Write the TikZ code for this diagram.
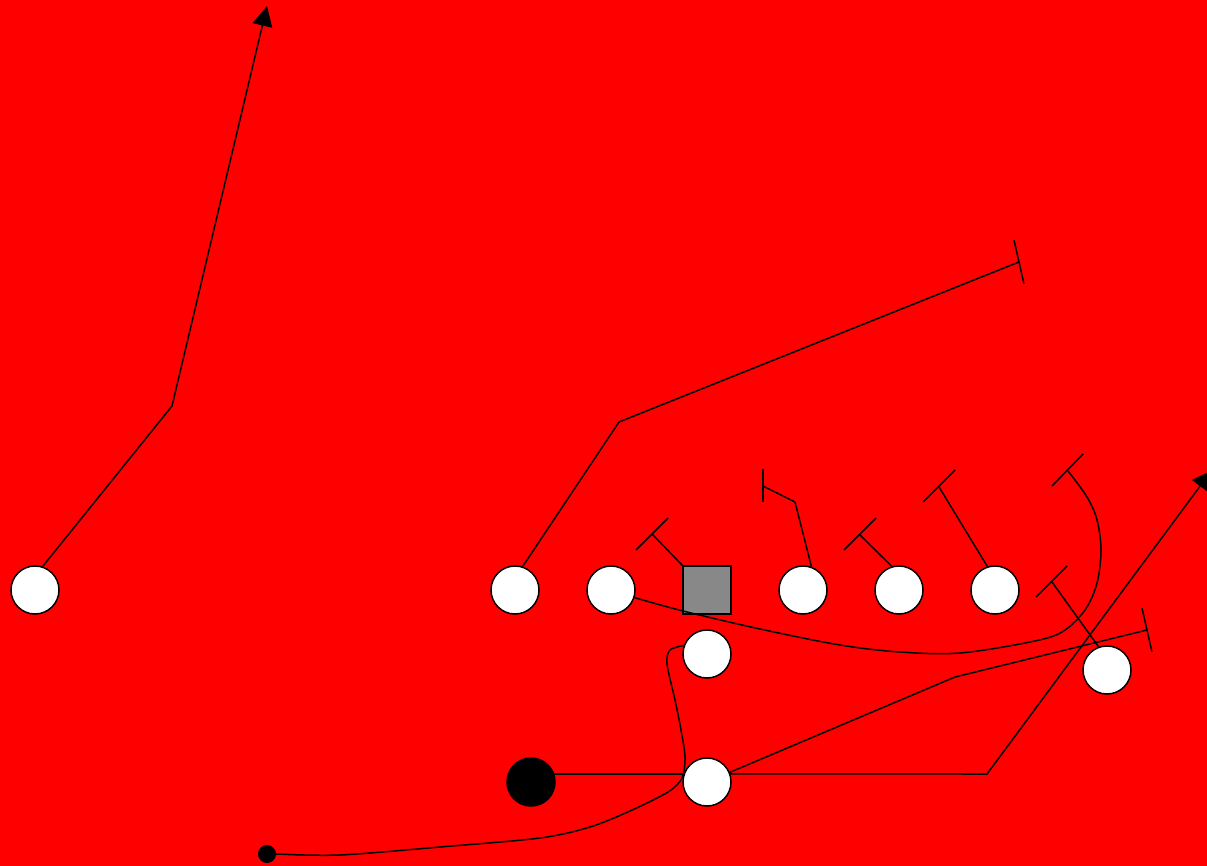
\documentclass[tikz,border=0pt]{standalone}
\usetikzlibrary{arrows.meta}
\definecolor{fieldred}{RGB}{255,0,0}
\definecolor{centergray}{RGB}{136,136,136}
\begin{document}
\begin{tikzpicture}[x=1pt,y=-1pt,
  player/.style={circle, draw=black, fill=white, minimum size=48pt, inner sep=0pt, line width=1.5pt},
  centerbox/.style={rectangle, draw=black, fill=centergray, minimum size=48pt, inner sep=0pt, line width=1.5pt},
  ballcarrier/.style={circle, draw=black, fill=black, minimum size=48pt, inner sep=0pt, line width=1.5pt},
  motiondot/.style={circle, draw=black, fill=black, minimum size=17pt, inner sep=0pt, line width=1pt},
  route/.style={draw=black, line width=1.5pt, line join=round},
  tbar/.style={draw=black, line width=1.5pt},
  arrowroute/.style={route, -{Triangle[length=20pt,width=20pt]}}
]
\clip (0,0) rectangle (1207,866);
\fill[fieldred] (0,0) rectangle (1207,866);

% players
\node[player] (lt) at (35,590) {};
\node[player] (c1) at (515,590) {};
\node[player] (c2) at (611,590) {};
\node[centerbox] (ce) at (707,590) {};
\node[player] (c4) at (803,590) {};
\node[player] (c5) at (899,590) {};
\node[player] (c6) at (995,590) {};
\node[player] (q2) at (707,654) {};
\node[player] (wr) at (1107,670) {};
\node[player] (qb) at (707,782) {};
\node[ballcarrier] (bk) at (531,782) {};
\node[motiondot] (dt) at (267,854) {};

% end coordinates
\coordinate (e2) at (1019,262);
\coordinate (e3) at (1068,471);
\coordinate (e4) at (652,534);
\coordinate (e5) at (763,486);
\coordinate (e6) at (860,535);
\coordinate (e7) at (939,487);
\coordinate (e8) at (1052,582);
\coordinate (e10) at (1147,630);
\coordinate (e11) at (1212,470);
\coordinate (e1) at (267,6);

% route 1: long go
\draw[arrowroute] (lt.72) -- (172,406) -- (e1);

% route 2
\draw[route] (c1.72) -- (619,422) -- (e2);
\draw[tbar] (e2) ++(-5,-22) -- ++(10,44);

% route 3: curving route
\draw[route] plot[smooth, tension=0.55] coordinates {(c2.-18) (683,611) (760,629) (840,645) (900,652) (960,653) (1030,642) (1062,632) (1085,610) (1097,583) (1101,550) (1097,520) (1087,497) (e3)};
\draw[tbar] (e3) ++(-16,15) -- ++(31,-32);

% route 4
\draw[route] (ce.north west) -- (e4);
\draw[tbar] (e4) ++(-16,16) -- ++(32,-32);

% route 5
\draw[route] (c4.70) -- (795,502) -- (e5);
\draw[tbar] (e5) ++(0,-17) -- ++(0,33);

% route 6
\draw[route] (c5.107) -- (e6);
\draw[tbar] (e6) ++(-16,15) -- ++(32,-32);

% route 7
\draw[route] (c6.108) -- (e7);
\draw[tbar] (e7) ++(-16,15) -- ++(32,-32);

% route 8
\draw[route] (wr.110) -- (e8);
\draw[tbar] (e8) ++(-16,15) -- ++(31,-31);

% route 9: motion to dot
\draw[route] plot[smooth, tension=0.5] coordinates {(q2.160) (670,650) (667,664) (675,700) (681,730) (685,757) (682,778) (668,792) (630,811) (590,827) (540,838) (440,847) (340,855) (dt.east)};

% route 10
\draw[route] (qb) -- (955,677) -- (e10);
\draw[tbar] (e10) ++(-5,-22) -- ++(10,44);

% route 11
\draw[arrowroute] (qb.19) -- (987,774) -- (e11);

% route 12
\draw[route] (bk.19) -- (qb.161);
\end{tikzpicture}
\end{document}
